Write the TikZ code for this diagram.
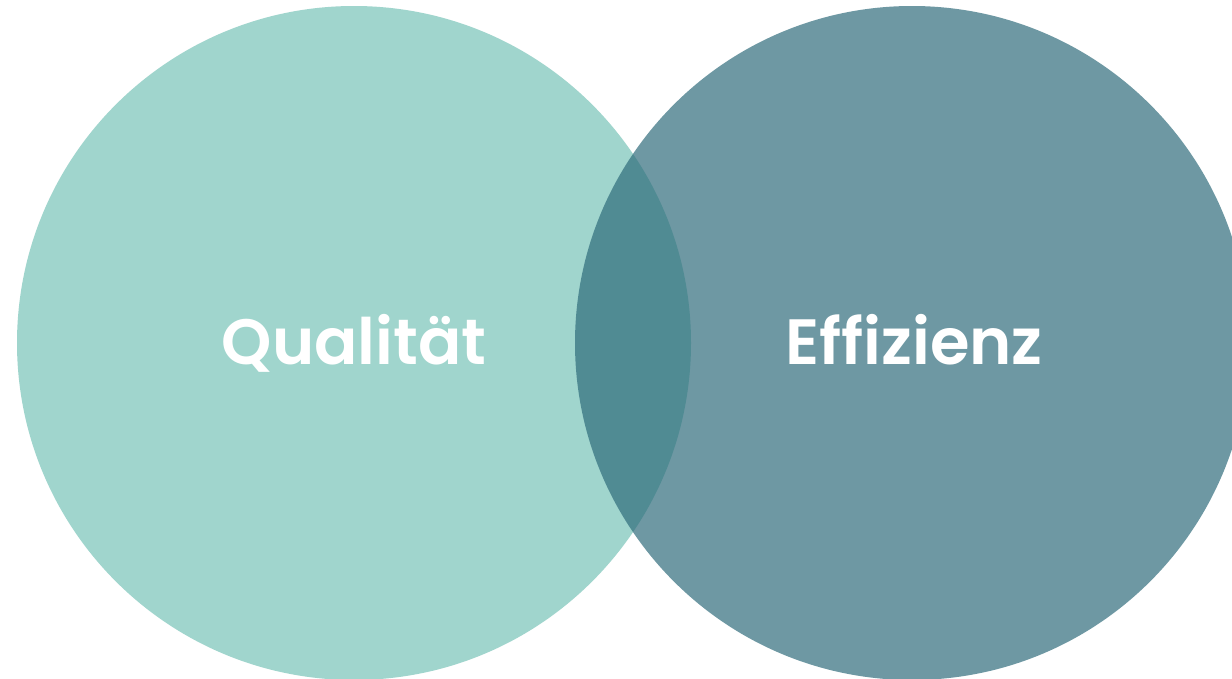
\documentclass[tikz,border=0pt]{standalone}
\usepackage{fontspec}
\newfontfamily\pop{Poppins}[UprightFont=* SemiBold]
\definecolor{leftc}{HTML}{A0D5CD}
\definecolor{rightc}{HTML}{2D6A7A}
\begin{document}
\begin{tikzpicture}[x=1pt,y=-1pt,
  lbl/.style={text=white,font=\pop\fontsize{64}{64}\selectfont,anchor=base,inner sep=0pt}]
\useasboundingbox (0,0) rectangle (1232,678);
\fill[white] (0,0) rectangle (1232,678);
\clip (0,0) rectangle (1232,678);
\fill[leftc] (354,343) circle[radius=337];
\fill[rightc,fill opacity=0.69] (912,343) circle[radius=337];
\node[lbl] (q) at (354,364) {Qualität};
\node[lbl] (e) at (914,364) {Effizienz};
\end{tikzpicture}
\end{document}
